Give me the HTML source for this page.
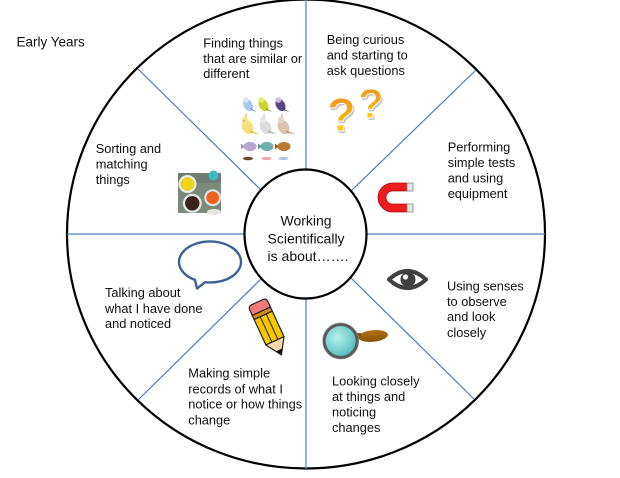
<!DOCTYPE html>
<html>
<head>
<meta charset="utf-8">
<style>
  html,body{margin:0;padding:0;background:#fff;}
  svg{display:block;}
  .t{font-family:"Liberation Sans",Arial,sans-serif;font-size:12.8px;fill:#111;}
  .c{font-family:"Liberation Sans",Arial,sans-serif;font-size:14px;fill:#111;}
</style>
</head>
<body>
<svg width="620" height="478" viewBox="0 0 620 478" xmlns="http://www.w3.org/2000/svg">
  <defs>
    <linearGradient id="qg" x1="0" y1="0" x2="0" y2="1">
      <stop offset="0" stop-color="#f08a1c"/>
      <stop offset="0.5" stop-color="#f7ad18"/>
      <stop offset="1" stop-color="#ffe800"/>
    </linearGradient>
    <radialGradient id="lens" cx="0.4" cy="0.4" r="0.7">
      <stop offset="0" stop-color="#b8f0ee"/>
      <stop offset="0.6" stop-color="#72cfcc"/>
      <stop offset="1" stop-color="#4aa9a8"/>
    </radialGradient>
    <linearGradient id="hd" x1="0" y1="0" x2="0" y2="1">
      <stop offset="0" stop-color="#b5700f"/>
      <stop offset="1" stop-color="#8a5206"/>
    </linearGradient>
  </defs>
  <rect width="620" height="478" fill="#fff"/>

  <!-- outer circle -->
  <ellipse cx="306" cy="234" rx="239" ry="234.5" fill="#fff" stroke="#000" stroke-width="2.2"/>

  <!-- divider lines -->
  <g stroke="#4a7ebb" stroke-width="1.2" fill="none">
    <line x1="306" y1="0" x2="306" y2="172"/>
    <line x1="306" y1="297" x2="306" y2="469"/>
    <line x1="67" y1="234" x2="246" y2="234"/>
    <line x1="365" y1="234" x2="545" y2="234"/>
    <line x1="138" y1="69" x2="261" y2="190"/>
    <line x1="476" y1="70" x2="351" y2="191"/>
    <line x1="138" y1="400" x2="261" y2="279"/>
    <line x1="474" y1="399" x2="351" y2="278"/>
  </g>

  <!-- inner circle -->
  <ellipse cx="305.5" cy="234" rx="61" ry="64.5" fill="#fff" stroke="#000" stroke-width="2.2"/>
  <text class="c" text-anchor="middle">
    <tspan x="308" y="225.7">Working</tspan>
    <tspan x="308" y="243.4">Scientifically</tspan>
    <tspan x="308" y="261">is about…….</tspan>
  </text>

  <!-- Early Years -->
  <text x="16.5" y="46.7" style="font-family:'Liberation Sans',Arial,sans-serif;font-size:13.5px;fill:#111;">Early Years</text>

  <!-- labels -->
  <text class="t">
    <tspan x="203.3" y="47.5">Finding things</tspan>
    <tspan x="203.3" y="62.9">that are similar or</tspan>
    <tspan x="203.3" y="78.2">different</tspan>
  </text>
  <text class="t">
    <tspan x="95.7" y="153">Sorting and</tspan>
    <tspan x="95.7" y="168.7">matching</tspan>
    <tspan x="95.7" y="184.1">things</tspan>
  </text>
  <text class="t">
    <tspan x="326.7" y="44">Being curious</tspan>
    <tspan x="326.7" y="59.6">and starting to</tspan>
    <tspan x="326.7" y="75">ask questions</tspan>
  </text>
  <text class="t">
    <tspan x="447.7" y="151.4">Performing</tspan>
    <tspan x="447.7" y="167.2">simple tests</tspan>
    <tspan x="447.7" y="182.5">and using</tspan>
    <tspan x="447.7" y="198">equipment</tspan>
  </text>
  <text class="t">
    <tspan x="105" y="297">Talking about</tspan>
    <tspan x="105" y="313">what I have done</tspan>
    <tspan x="105" y="328">and noticed</tspan>
  </text>
  <text class="t">
    <tspan x="188.3" y="377.4">Making simple</tspan>
    <tspan x="188.3" y="393.3">records of what I</tspan>
    <tspan x="188.3" y="408.6">notice or how things</tspan>
    <tspan x="188.3" y="424.4">change</tspan>
  </text>
  <text class="t">
    <tspan x="447" y="290.4">Using senses</tspan>
    <tspan x="447" y="306">to observe</tspan>
    <tspan x="447" y="321.2">and look</tspan>
    <tspan x="447" y="337">closely</tspan>
  </text>
  <text class="t">
    <tspan x="332" y="385.4">Looking closely</tspan>
    <tspan x="332" y="400.8">at things and</tspan>
    <tspan x="332" y="416.4">noticing</tspan>
    <tspan x="332" y="432">changes</tspan>
  </text>

  <!-- birds / fish picture -->
  <g>
    <g transform="translate(248,105)">
      <ellipse cx="0" cy="0" rx="4.5" ry="6.5" fill="#a9c9ea" transform="rotate(-30)"/>
      <circle cx="-2" cy="-5" r="2.8" fill="#d8e6f5"/>
      <path d="M2 3 L9 7 L3 5 Z" fill="#5a84c0"/>
    </g>
    <g transform="translate(263.5,105)">
      <ellipse cx="0" cy="0" rx="4.5" ry="6.5" fill="#c9d630" transform="rotate(-30)"/>
      <circle cx="-2" cy="-5" r="2.8" fill="#e6ee70"/>
      <path d="M2 3 L9 7 L3 5 Z" fill="#7a8a10"/>
    </g>
    <g transform="translate(280.5,105)">
      <ellipse cx="0" cy="0" rx="4.5" ry="6.5" fill="#5a4680" transform="rotate(-30)"/>
      <circle cx="-2" cy="-5" r="2.8" fill="#c8c0e0"/>
      <path d="M2 3 L9 7 L3 5 Z" fill="#3a2a60"/>
    </g>
    <g transform="translate(247,126)">
      <ellipse cx="0" cy="1" rx="5.5" ry="7.5" fill="#f3e27a" transform="rotate(-25)"/>
      <circle cx="-2" cy="-6" r="3.2" fill="#f6e88a"/>
      <path d="M-2 -9 L-1 -14 L0 -9 Z" fill="#e8c840"/>
      <path d="M3 4 L12 8 L3 7 Z" fill="#e0c850"/>
      <circle cx="-3" cy="-5" r="1" fill="#f0a040"/>
    </g>
    <g transform="translate(265,126)">
      <ellipse cx="0" cy="1" rx="5.5" ry="7.5" fill="#dcdcdc" transform="rotate(-25)"/>
      <circle cx="-2" cy="-6" r="3.2" fill="#e8e8e8"/>
      <path d="M-2 -9 L-1 -14 L0 -9 Z" fill="#cfcfcf"/>
      <path d="M3 4 L12 8 L3 7 Z" fill="#bdbdbd"/>
    </g>
    <g transform="translate(283,126)">
      <ellipse cx="0" cy="1" rx="5.5" ry="7.5" fill="#ddc2ad" transform="rotate(-25)"/>
      <circle cx="-2" cy="-6" r="3.2" fill="#e8d4c4"/>
      <path d="M-2 -9 L-1 -14 L0 -9 Z" fill="#d0b098"/>
      <path d="M3 4 L12 8 L3 7 Z" fill="#c0a08a"/>
    </g>
    <g transform="translate(250,146.5)">
      <ellipse cx="0" cy="0" rx="6.5" ry="4.6" fill="#b7a6d2"/>
      <path d="M-5 0 L-9 -3 L-9 3 Z" fill="#a594c4"/>
    </g>
    <g transform="translate(267,146.5)">
      <ellipse cx="0" cy="0" rx="6.5" ry="4.6" fill="#6fb2aa"/>
      <path d="M-5 0 L-9 -3 L-9 3 Z" fill="#5a9c9a"/>
    </g>
    <g transform="translate(284,146.5)">
      <ellipse cx="0" cy="0" rx="6.5" ry="4.6" fill="#b77a30"/>
      <path d="M-5 0 L-9 -3 L-9 3 Z" fill="#9a6020"/>
    </g>
    <ellipse cx="248" cy="158.5" rx="5" ry="1.8" fill="#6a4a2a"/>
    <ellipse cx="266.5" cy="158.5" rx="5" ry="1.6" fill="#e4a8a8"/>
    <ellipse cx="283.5" cy="158.5" rx="5" ry="1.6" fill="#a8cadb"/>
  </g>

  <!-- food bowls photo -->
  <g>
    <rect x="178" y="173" width="43" height="40" fill="#7b8a78"/>
    <rect x="178" y="173" width="43" height="10" fill="#66756a" opacity="0.6"/>
    <circle cx="213.5" cy="175.5" r="5" fill="#3fb6c4"/>
    <circle cx="187.5" cy="184" r="9" fill="#e8ecef"/>
    <circle cx="187.5" cy="184" r="6.8" fill="#f0d21a"/>
    <circle cx="212.7" cy="197.7" r="8.5" fill="#d8e2ea"/>
    <circle cx="212.7" cy="197.7" r="6.3" fill="#f06018"/>
    <circle cx="192.3" cy="203.3" r="9.5" fill="#dfe6ee"/>
    <circle cx="192.3" cy="203.3" r="7.2" fill="#3a2218"/>
    <ellipse cx="214" cy="212" rx="7" ry="3" fill="#e6e6e0"/>
  </g>

  <!-- question marks -->
  <g style="font-family:'Liberation Sans',Arial,sans-serif;font-weight:bold;">
    <text x="328.5" y="133" font-size="47" fill="#888" opacity="0.5">?</text>
    <text x="327" y="131" font-size="47" fill="url(#qg)" stroke="#fff" stroke-width="1">?</text>
    <text x="359.5" y="120" font-size="42" fill="#888" opacity="0.5">?</text>
    <text x="358" y="118" font-size="42" fill="url(#qg)" stroke="#fff" stroke-width="1">?</text>
  </g>

  <!-- magnet -->
  <g>
    <path d="M407 183 L392.5 183 A14.5 14.5 0 0 0 392.5 212 L407 212 L407 204 L392.5 204 A6.5 6.5 0 0 1 392.5 191 L407 191 Z" fill="#ee1c1c" stroke="#b01010" stroke-width="0.8"/>
    <rect x="407" y="183" width="6" height="8" fill="#e4e4e4" stroke="#888" stroke-width="0.8"/>
    <rect x="407" y="204" width="6" height="8" fill="#e4e4e4" stroke="#888" stroke-width="0.8"/>
  </g>

  <!-- speech bubble -->
  <path d="M205 282.2 A31 20.5 0 1 0 195 279.9 L197 288.5 Z" fill="#fff" stroke="#3b6492" stroke-width="2.4" stroke-linejoin="round"/>

  <!-- pencil -->
  <g transform="translate(258,304) rotate(-24.7)">
    <path d="M-10 8 L-10 2 Q-10 -2 -6 -2 L6 -2 Q10 -2 10 2 L10 8 Z" fill="#f07a7a" stroke="#222" stroke-width="1.2"/>
    <rect x="-10" y="8" width="20" height="4.5" fill="#d68a18" stroke="#222" stroke-width="1.2"/>
    <rect x="-10" y="12.5" width="20" height="28" fill="#f7c800" stroke="#222" stroke-width="1.2"/>
    <line x1="-3.3" y1="12.5" x2="-3.3" y2="40.5" stroke="#222" stroke-width="1"/>
    <line x1="3.3" y1="12.5" x2="3.3" y2="40.5" stroke="#222" stroke-width="1"/>
    <path d="M-10 40.5 L10 40.5 L0 56 Z" fill="#f8d9aa" stroke="#222" stroke-width="1.2" stroke-linejoin="round"/>
    <path d="M-3.5 50.5 L3.5 50.5 L0 56 Z" fill="#111"/>
  </g>

  <!-- eye -->
  <g>
    <path d="M389 279.5 Q407.5 262.5 426 279.5 Q407.5 296.5 389 279.5 Z" fill="#fff" stroke="#404040" stroke-width="4" stroke-linejoin="round"/>
    <circle cx="408" cy="279.5" r="7.5" fill="#404040"/>
    <circle cx="405.5" cy="277" r="2.6" fill="#fff"/>
  </g>

  <!-- magnifying glass -->
  <g>
    <ellipse cx="373" cy="336" rx="15" ry="5.8" fill="url(#hd)" transform="rotate(-6 373 336)"/>
    <rect x="355" y="333" width="6" height="5" fill="#8a5206"/>
    <circle cx="340.7" cy="341" r="16.5" fill="url(#lens)" stroke="#5a5a5a" stroke-width="3"/>
    <circle cx="340.7" cy="341" r="18.2" fill="none" stroke="#999" stroke-width="0.8" opacity="0.6"/>
  </g>
</svg>
</body>
</html>
